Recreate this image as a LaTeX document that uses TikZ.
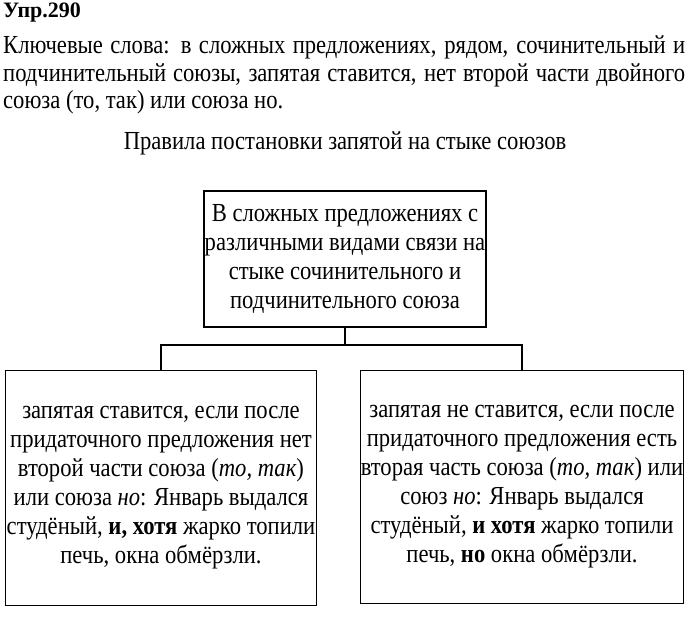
\documentclass[tikz,border=0pt]{standalone}
\usepackage{fontspec}
\setmainfont[FakeStretch=0.87]{Liberation Serif}
\newfontfamily\headfont{Liberation Serif}
\usetikzlibrary{positioning}
\tikzset{
  frame/.style={rectangle, draw=black, line width=1.3pt, align=center,
                font=\fontsize{26}{29}\selectfont, inner sep=0pt},
  link/.style={line width=1.3pt, draw=black},
  plain/.style={inner sep=0pt, font=\fontsize{26}{27.5}\selectfont},
}

\begin{document}
\begin{tikzpicture}[x=1pt, y=-1pt]
  \useasboundingbox (0,0) rectangle (688,642);
  \node[plain, anchor=base west, font=\headfont\fontsize{22}{26}\selectfont\bfseries] (ex) at (3,18) {Упр.290};
  \node[plain, anchor=north west, text width=682pt, align=justify] (keys) at (3,36)
    {Ключевые слова: в сложных предложениях, рядом, сочинительный и подчинительный союзы, запятая ставится, нет второй части двойного союза (то, так) или союза но.};
  \node[plain] (title) at (345,143) {Правила постановки запятой на стыке союзов};

  \node[frame, minimum width=282pt, minimum height=136pt] (root) at (345,259)
    {В сложных предложениях с\\различными видами связи на\\стыке сочинительного и\\подчинительного союза};
  \node[frame, minimum width=311pt, minimum height=235pt] (left) at (161,488)
    {запятая ставится, если после\\придаточного предложения нет\\второй части союза (\textit{то, так})\\или союза \textit{но}: Январь выдался\\студёный, \textbf{и, хотя} жарко топили\\печь, окна обмёрзли.};
  \node[frame, minimum width=323pt, minimum height=233pt] (right) at (522,487)
    {запятая не ставится, если после\\придаточного предложения есть\\вторая часть союза (\textit{то, так}) или\\союз \textit{но}: Январь выдался\\студёный, \textbf{и хотя} жарко топили\\печь, \textbf{но} окна обмёрзли.};

  \coordinate (bus) at (345,345);
  \draw[link] (root.south) -- (bus);
  \draw[link] (left.north) |- (bus) -| (right.north);
\end{tikzpicture}
\end{document}
